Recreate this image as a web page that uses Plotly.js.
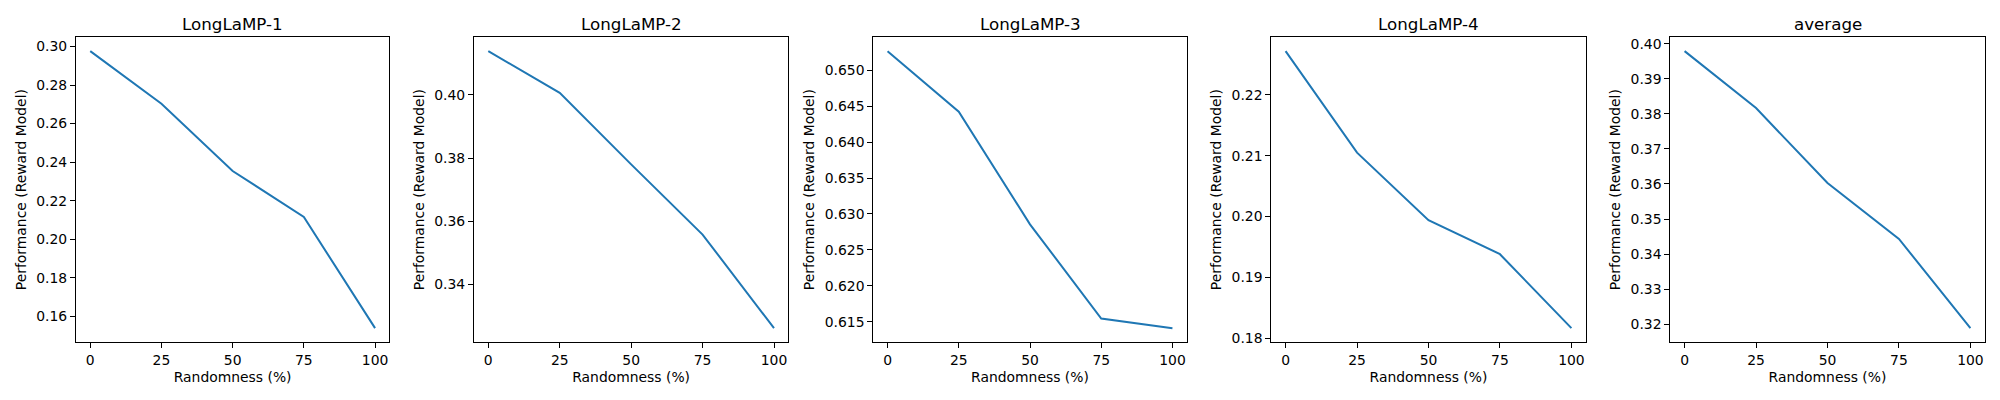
<!DOCTYPE html>
<html>
<head>
<meta charset="utf-8">
<script src="https://cdn.plot.ly/plotly-3.0.1.min.js"></script>
<style>html,body{margin:0;padding:0;background:#fff;}#chart{width:2000px;height:400px;}</style>
</head>
<body>
<div id="chart"></div>
<script>
// ---- data ----
const randomness = [0, 25, 50, 75, 100];
const panelTitles = ["LongLaMP-1", "LongLaMP-2", "LongLaMP-3", "LongLaMP-4", "average"];
const longlamp1 = [0.2976, 0.2703, 0.2354, 0.2115, 0.1538];
const longlamp2 = [0.4138, 0.4006, 0.3780, 0.3558, 0.3262];
const longlamp3 = [0.65264, 0.64421, 0.62856, 0.61546, 0.61412];
const longlamp4 = [0.22716, 0.21049, 0.19940, 0.19383, 0.18169];
const average   = [0.39791, 0.38166, 0.36028, 0.34432, 0.31886];
const xTickVals = [0, 25, 50, 75, 100];
const xTickText = ["0", "25", "50", "75", "100"];
const xLabel = "Randomness (%)";
const yLabel = "Performance (Reward Model)";

// ---- layout constants ----
const series = [longlamp1, longlamp2, longlamp3, longlamp4, average];
const yDticks = [0.02, 0.02, 0.005, 0.01, 0.01];
const yFormats = [".2f", ".2f", ".3f", ".2f", ".2f"];
const xDomains = [[76, 389.3], [474, 788.3], [873.3, 1186.7], [1271.3, 1585.7], [1670.3, 1984.7]];
const W = 2000, H = 400;
const yDomain = [1 - 342 / H, 1 - 37.3 / H];
const FONT = "DejaVu Sans, Liberation Sans, sans-serif";
const tickFont = {family: FONT, size: 13.9, color: "#000"};

const traces = [];
const layout = {
  width: W, height: H,
  margin: {l: 0, r: 0, t: 0, b: 0},
  paper_bgcolor: "#fff", plot_bgcolor: "#fff",
  showlegend: false,
  font: {family: FONT, color: "#000"},
  annotations: []
};

series.forEach((vals, i) => {
  const n = i === 0 ? "" : String(i + 1);
  traces.push({
    x: randomness, y: vals, type: "scatter", mode: "lines",
    line: {color: "#1f77b4", width: 2},
    xaxis: "x" + n, yaxis: "y" + n, hoverinfo: "x+y"
  });
  const lo = Math.min(...vals), hi = Math.max(...vals), span = hi - lo;
  const common = {
    showline: true, linecolor: "#000", linewidth: 1, mirror: true,
    ticks: "outside", ticklen: 5, tickwidth: 1, tickcolor: "#000",
    showgrid: false, zeroline: false, tickfont: tickFont
  };
  layout["xaxis" + n] = Object.assign({}, common, {
    domain: [xDomains[i][0] / W, xDomains[i][1] / W],
    anchor: "y" + n,
    range: [-5, 105],
    tickmode: "array", tickvals: xTickVals, ticktext: xTickText,
    title: {text: xLabel, font: {family: FONT, size: 13.9, color: "#000"}, standoff: 5}
  });
  layout["yaxis" + n] = Object.assign({}, common, {
    domain: yDomain,
    anchor: "x" + n,
    range: [lo - 0.05 * span, hi + 0.05 * span],
    tick0: 0, dtick: yDticks[i], tickformat: yFormats[i],
    title: {text: yLabel, font: {family: FONT, size: 13.9, color: "#000"}, standoff: 6}
  });
  layout.annotations.push({
    text: panelTitles[i], showarrow: false,
    xref: "paper", yref: "paper",
    x: (xDomains[i][0] + xDomains[i][1]) / 2 / W, xanchor: "center",
    y: 1 - 24 / H, yanchor: "middle",
    font: {family: FONT, size: 16.7, color: "#000"}
  });
});

Plotly.newPlot("chart", traces, layout, {staticPlot: true, displayModeBar: false});
</script>
</body>
</html>
